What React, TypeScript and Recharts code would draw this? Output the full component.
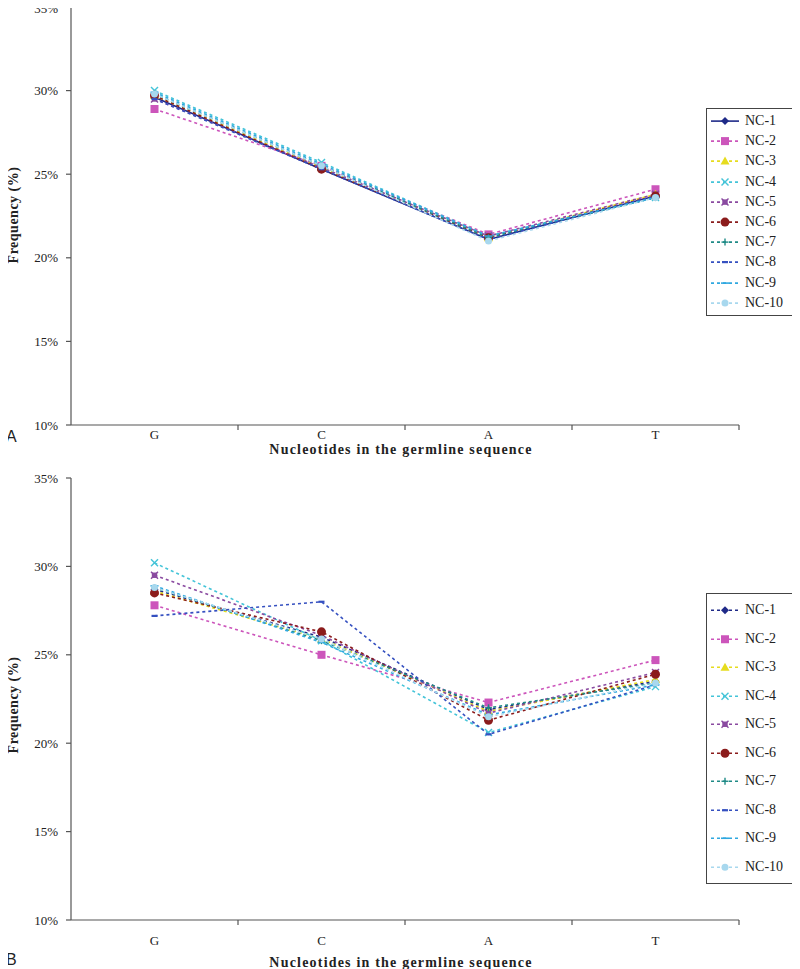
import React from 'react'
import { LineChart, Line, XAxis, YAxis } from 'recharts'

// nucleotide categories and series names
const categories = ['G', 'C', 'A', 'T']
const seriesNames = ['NC-1', 'NC-2', 'NC-3', 'NC-4', 'NC-5', 'NC-6', 'NC-7', 'NC-8', 'NC-9', 'NC-10']
const yTicks = [10, 15, 20, 25, 30, 35]

// panel A values (%), order G, C, A, T
const aNC1 = [29.6, 25.3, 21.1, 23.7]
const aNC2 = [28.9, 25.5, 21.4, 24.1]
const aNC3 = [29.7, 25.4, 21.2, 23.8]
const aNC4 = [30.0, 25.7, 21.3, 23.6]
const aNC5 = [29.5, 25.4, 21.3, 23.8]
const aNC6 = [29.7, 25.3, 21.2, 23.7]
const aNC7 = [29.8, 25.5, 21.2, 23.6]
const aNC8 = [29.5, 25.3, 21.1, 23.7]
const aNC9 = [29.9, 25.6, 21.3, 23.6]
const aNC10 = [29.8, 25.5, 21.0, 23.6]

// panel B values (%)
const bNC1 = [28.7, 26.0, 21.9, 23.5]
const bNC2 = [27.8, 25.0, 22.3, 24.7]
const bNC3 = [28.6, 25.9, 21.8, 23.6]
const bNC4 = [30.2, 25.8, 20.6, 23.2]
const bNC5 = [29.5, 26.1, 21.7, 24.0]
const bNC6 = [28.5, 26.3, 21.3, 23.9]
const bNC7 = [28.8, 25.8, 22.0, 23.4]
const bNC8 = [27.2, 28.0, 20.5, 23.3]
const bNC9 = [28.9, 25.7, 21.6, 23.3]
const bNC10 = [28.8, 25.9, 21.5, 23.4]

const panelA = [aNC1, aNC2, aNC3, aNC4, aNC5, aNC6, aNC7, aNC8, aNC9, aNC10]
const panelB = [bNC1, bNC2, bNC3, bNC4, bNC5, bNC6, bNC7, bNC8, bNC9, bNC10]

const seriesStyle = [
  { color: '#1f2a88', shape: 'diamond' },
  { color: '#cc55bb', shape: 'square' },
  { color: '#e6dc1e', shape: 'triangle' },
  { color: '#44c4d8', shape: 'x' },
  { color: '#8a4aa0', shape: 'star' },
  { color: '#8b1c1c', shape: 'circle' },
  { color: '#1f8a86', shape: 'plus' },
  { color: '#3550c0', shape: 'dash' },
  { color: '#2fa8e0', shape: 'dash2' },
  { color: '#a8d8ee', shape: 'dot' },
]

const toRows = (series: number[][]) =>
  categories.map((cat, i) => {
    const row: any = { cat }
    seriesNames.forEach((n, j) => { row[n] = series[j][i] })
    return row
  })

const FONT = '"Liberation Serif", "DejaVu Serif", serif'
const AXIS = '#555'
const PLOT_LEFT = 71
const PLOT_RIGHT = 739
const BAND = (PLOT_RIGHT - PLOT_LEFT) / categories.length

function Marker({ shape, cx, cy, color }: any) {
  switch (shape) {
    case 'diamond':
      return <polygon points={`${cx},${cy - 4} ${cx + 4},${cy} ${cx},${cy + 4} ${cx - 4},${cy}`} fill={color} />
    case 'square':
      return <rect x={cx - 4} y={cy - 4} width={8} height={8} fill={color} />
    case 'triangle':
      return <polygon points={`${cx},${cy - 4.5} ${cx + 4.5},${cy + 3.5} ${cx - 4.5},${cy + 3.5}`} fill={color} />
    case 'x':
      return (
        <g stroke={color} strokeWidth={1.4}>
          <line x1={cx - 3.5} y1={cy - 3.5} x2={cx + 3.5} y2={cy + 3.5} />
          <line x1={cx - 3.5} y1={cy + 3.5} x2={cx + 3.5} y2={cy - 3.5} />
        </g>
      )
    case 'star':
      return (
        <g stroke={color} strokeWidth={1.4}>
          <line x1={cx - 3.5} y1={cy - 3.5} x2={cx + 3.5} y2={cy + 3.5} />
          <line x1={cx - 3.5} y1={cy + 3.5} x2={cx + 3.5} y2={cy - 3.5} />
          <rect x={cx - 2} y={cy - 2} width={4} height={4} fill={color} />
        </g>
      )
    case 'circle':
      return <circle cx={cx} cy={cy} r={4.5} fill={color} />
    case 'plus':
      return (
        <g stroke={color} strokeWidth={1.4}>
          <line x1={cx - 3.5} y1={cy} x2={cx + 3.5} y2={cy} />
          <line x1={cx} y1={cy - 3.5} x2={cx} y2={cy + 3.5} />
        </g>
      )
    case 'dash':
      return <line x1={cx - 3} y1={cy} x2={cx + 3} y2={cy} stroke={color} strokeWidth={2.2} />
    case 'dash2':
      return <line x1={cx - 4} y1={cy} x2={cx + 4} y2={cy} stroke={color} strokeWidth={1.6} />
    default:
      return <circle cx={cx} cy={cy} r={3.5} fill={color} />
  }
}

function LegendBox({ rowH, solidFirst, top }: any) {
  return (
    <div style={{ position: 'absolute', left: 706, top, border: '1px solid #444', background: '#fff', padding: '2px 0', width: 87 }}>
      {seriesNames.map((n, i) => (
        <div key={n} style={{ display: 'flex', alignItems: 'center', height: rowH }}>
          <svg width={36} height={rowH} style={{ display: 'block' }}>
            <line x1={4} x2={32} y1={rowH / 2} y2={rowH / 2} stroke={seriesStyle[i].color} strokeWidth={1.6}
              strokeDasharray={solidFirst && i === 0 ? undefined : '3 3'} />
            <Marker shape={seriesStyle[i].shape} cx={18} cy={rowH / 2} color={seriesStyle[i].color} />
          </svg>
          <span style={{ fontFamily: FONT, fontSize: 14, color: '#222', marginLeft: 2 }}>{n}</span>
        </div>
      ))}
    </div>
  )
}

function XTick({ x, y, payload, dy }: any) {
  return (
    <g>
      <text x={x} y={y + dy} textAnchor="middle" dominantBaseline="central" fontFamily={FONT} fontSize={13} fill="#222">
        {payload.value}
      </text>
      <line x1={x + BAND / 2} x2={x + BAND / 2} y1={y} y2={y + 5} stroke={AXIS} strokeWidth={1.2} />
    </g>
  )
}

function Panel({ series, top, height, plotTop, axisH, tickDy, legendTop, rowH, solidFirst }: any) {
  const data = toRows(series)
  return (
    <div style={{ position: 'absolute', left: 0, top }}>
      <LineChart width={800} height={height} data={data}
        margin={{ top: plotTop, right: 800 - PLOT_RIGHT, left: 0, bottom: 0 }}>
        <XAxis dataKey="cat" scale="band" height={axisH} tickSize={0} tickMargin={0} tickLine={false}
          stroke={AXIS} strokeWidth={1.2} tick={<XTick dy={tickDy} />} interval={0} />
        <YAxis width={PLOT_LEFT} domain={[10, 35]} ticks={yTicks} tickSize={5} tickMargin={8}
          stroke={AXIS} strokeWidth={1.2} tickFormatter={(v) => `${v}%`}
          tick={{ fontFamily: FONT, fontSize: 13, fill: '#222' }} />
        {seriesNames.map((n, i) => (
          <Line key={n} dataKey={n} name={n} type="linear" isAnimationActive={false}
            stroke={seriesStyle[i].color} strokeWidth={1.6}
            strokeDasharray={solidFirst && i === 0 ? undefined : '3 3'}
            dot={(p: any) => <Marker key={`${n}-${p.index}`} shape={seriesStyle[i].shape} cx={p.cx} cy={p.cy} color={seriesStyle[i].color} />}
            activeDot={false} />
        ))}
      </LineChart>
      <LegendBox rowH={rowH} solidFirst={solidFirst} top={legendTop} />
    </div>
  )
}

const titleStyle: any = {
  position: 'absolute', fontFamily: FONT, fontWeight: 'bold', fontSize: 14, color: '#222',
  letterSpacing: 1.2, whiteSpace: 'nowrap', lineHeight: '15px',
}

export default function App() {
  return (
    <div style={{ position: 'relative', width: 800, height: 969, margin: '-8px 0 0 -8px', background: '#fff', overflow: 'hidden' }}>
      <Panel series={panelA} top={0} height={460} plotTop={7} axisH={35} tickDy={9} legendTop={108} rowH={20.2} solidFirst />
      <Panel series={panelB} top={470} height={499} plotTop={8} axisH={49} tickDy={20} legendTop={123} rowH={28.5} solidFirst={false} />

      <div style={{ ...titleStyle, left: 401, top: 449, transform: 'translate(-50%, -50%)' }}>Nucleotides in the germline sequence</div>
      <div style={{ ...titleStyle, left: 401, top: 962, transform: 'translate(-50%, -50%)' }}>Nucleotides in the germline sequence</div>
      <div style={{ ...titleStyle, left: 13, top: 215, letterSpacing: 0.5, transform: 'translate(-50%, -50%) rotate(-90deg)' }}>Frequency (%)</div>
      <div style={{ ...titleStyle, left: 13, top: 705, letterSpacing: 0.5, transform: 'translate(-50%, -50%) rotate(-90deg)' }}>Frequency (%)</div>

      <div style={{ position: 'absolute', left: 6, top: 428, fontFamily: '"Liberation Sans", Arial, sans-serif', fontSize: 16, color: '#222' }}>A</div>
      <div style={{ position: 'absolute', left: 6, top: 951, fontFamily: '"Liberation Sans", Arial, sans-serif', fontSize: 16, color: '#222' }}>B</div>
    </div>
  )
}
